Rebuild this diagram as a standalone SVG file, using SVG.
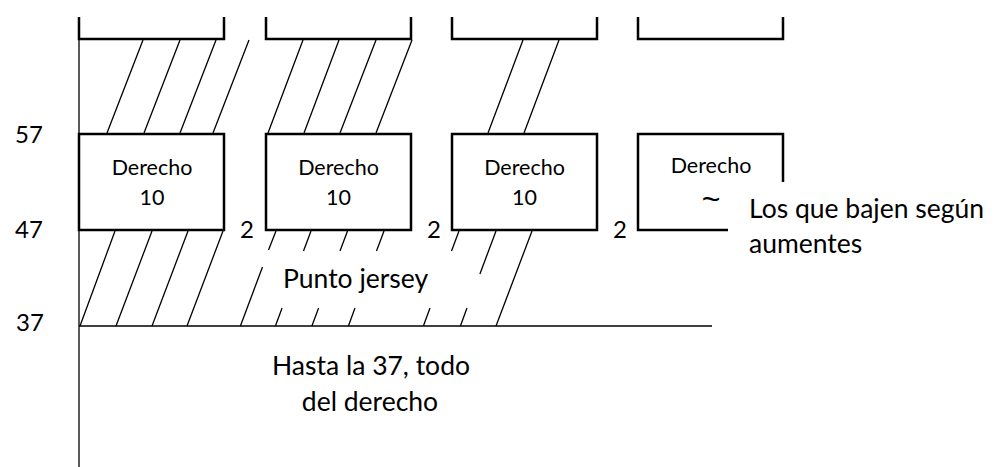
<svg xmlns="http://www.w3.org/2000/svg" width="996" height="467" viewBox="0 0 996 467">
<style>
.thin{stroke:#000;stroke-width:1.3;fill:none}
.box{stroke:#000;stroke-width:2.5;fill:none}
.t{font-family:Lato,"Open Sans",sans-serif;fill:#000}
.num{font-size:24px}
.big{font-size:26.5px}
.small{font-size:21.5px}
.c{text-anchor:middle}
</style>
<rect width="996" height="467" fill="#fff"/>
<g id="axis">
<line class="thin" x1="79" y1="17" x2="79" y2="467"/>
<line class="thin" x1="79" y1="326" x2="712" y2="326"/>
<text class="t num" x="15" y="143">57</text>
<text class="t num" x="15" y="238">47</text>
<text class="t num" x="16" y="331">37</text>
</g>
<g id="top-boxes">
<path class="box" d="M79,17 V39 H224 V17"/>
<path class="box" d="M266,17 V39 H411 V17"/>
<path class="box" d="M452,17 V39 H597 V17"/>
<path class="box" d="M638,17 V39 H783 V17"/>
</g>
<g id="box1">
<rect class="box" x="79" y="134" width="145" height="96"/>
<text class="t small c" x="152" y="175">Derecho</text>
<text class="t small c" x="152" y="205">10</text>
</g>
<g id="box2">
<rect class="box" x="266" y="134" width="145" height="96"/>
<text class="t small c" x="338.5" y="175">Derecho</text>
<text class="t small c" x="338.5" y="205">10</text>
</g>
<g id="box3">
<rect class="box" x="452" y="134" width="145" height="96"/>
<text class="t small c" x="524.5" y="175">Derecho</text>
<text class="t small c" x="524.5" y="205">10</text>
</g>
<g id="box4">
<path class="box" d="M728,230 H638 V134 H783 V182"/>
<text class="t small c" x="711" y="173">Derecho</text>
<text x="711" y="210" font-size="32" font-family="'Liberation Sans',sans-serif" text-anchor="middle">~</text>
</g>
<g id="connectors">
<path class="thin" d="M143,40 L107,133 M180,40 L144,133 M216,40 L180,133 M249,40 L213,133
M303,40 L268,133 M339,40 L304,133 M376,40 L340,133 M412,40 L376,133
M523,40 L488,133 M559,40 L524,133"/>
<path class="thin" d="M115,231 L80,326 M152,231 L116,326 M188,231 L152,326 M223,231 L187,326 M532,231 L496,326
M276,231 L268.5,250 M262.5,267 L240.4,326
M311,231 L303.5,251 M282.1,308 L275.4,326
M347.5,231 L340,251 M318.6,308 L311.9,326
M384,231 L376.5,251 M355,308 L348.4,326
M459,231 L451.5,251 M430,308 L423.4,326
M496,231 L479.9,274 M467,308 L460.4,326"/>
</g>
<g id="labels">
<text class="t num" x="240" y="238">2</text>
<text class="t num" x="427" y="238">2</text>
<text class="t num" x="613" y="238">2</text>
<text class="t big" x="283" y="288">Punto jersey</text>
<text class="t big c" x="371" y="375">Hasta la 37, todo</text>
<text class="t big c" x="370" y="411">del derecho</text>
<text class="t big" x="749" y="218">Los que bajen según</text>
<text class="t big" x="749" y="253">aumentes</text>
</g>
</svg>
